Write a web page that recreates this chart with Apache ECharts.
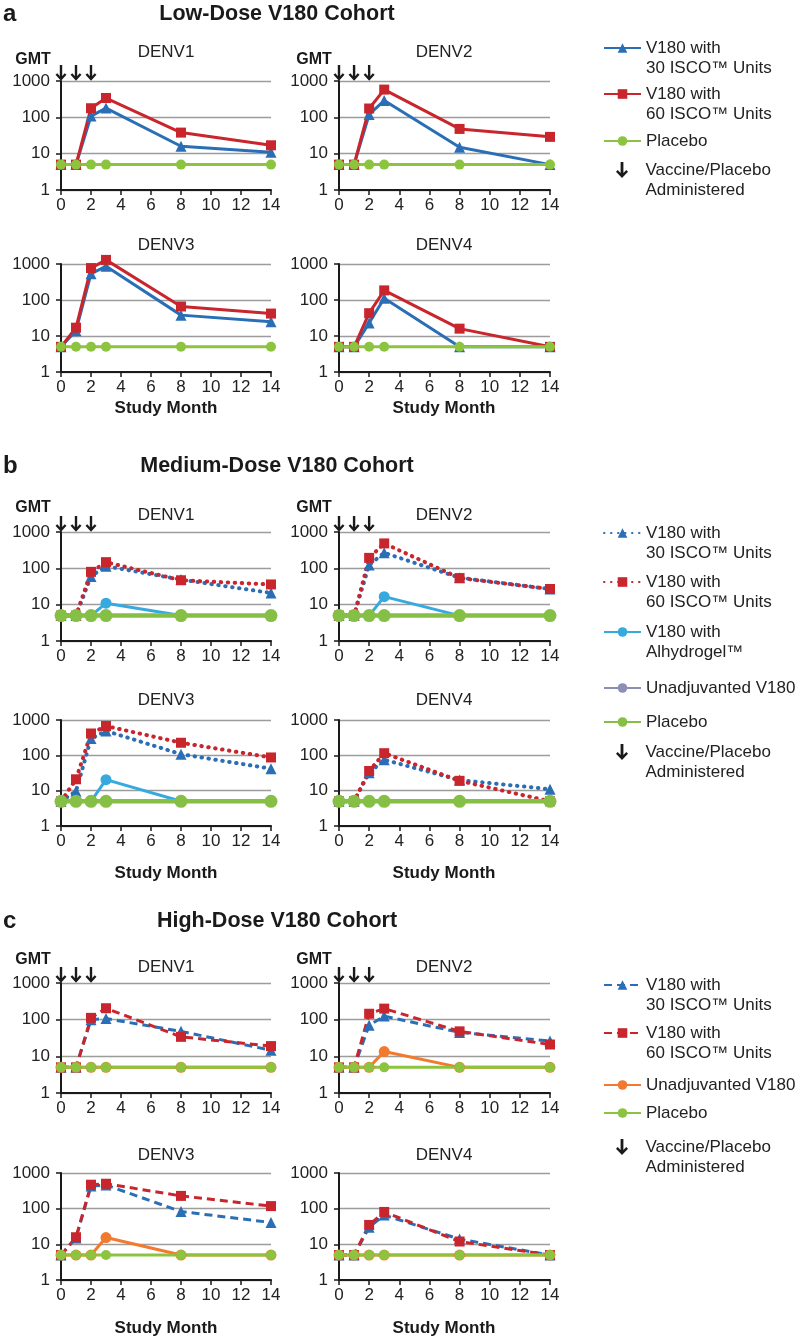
<!DOCTYPE html>
<html><head><meta charset="utf-8">
<script src="https://cdn.jsdelivr.net/npm/echarts@6/dist/echarts.min.js"></script>
<style>html,body{margin:0;padding:0;background:#fff}#c{width:800px;height:1341px}</style>
</head><body><div id="c"></div>
<script>
// ---------- DATA ----------
const months = [0, 1, 2, 3, 8, 14];
const doseMonths = [0, 1, 2];
const serotypes = ['DENV1', 'DENV2', 'DENV3', 'DENV4'];
const sectionLetters = ['a', 'b', 'c'];
const sectionTitles = ['Low-Dose V180 Cohort', 'Medium-Dose V180 Cohort', 'High-Dose V180 Cohort'];

// Low dose (per serotype DENV1..DENV4, values at months)
const low30 = [[5,5,108,180,16,11],[5,5,120,290,15,5],[5,14,540,860,38,25],[5,5,23,112,5,5]];
const low60 = [[5,5,178,340,38,17],[5,5,175,580,48,29],[5,17,770,1300,66,42],[5,5,43,185,16,5]];
const lowPlacebo = [[5,5,5,5,5,5],[5,5,5,5,5,5],[5,5,5,5,5,5],[5,5,5,5,5,5]];

// Medium dose
const med30 = [[5,5,60,115,49,21],[5,5,124,267,55,27],[5,9.6,300,490,108,42],[5,5,32,75,20,11]];
const med60 = [[5,5,80,148,47,36],[5,5,194,485,54,27],[5,21,415,675,227,87],[5,5,36,115,19,5]];
const medAlhy = [[5,5,5,11,5,5],[5,5,5,16.6,5,5],[5,5,5,20.5,5,5],[5,5,5,5,5,5]];
const medUnadj = [[5,5,5,5,5,5],[5,5,5,5,5,5],[5,5,5,5,5,5],[5,5,5,5,5,5]];
const medPlacebo = [[5,5,5,5,5,5],[5,5,5,5,5,5],[5,5,5,5,5,5],[5,5,5,5,5,5]];

// High dose
const high30 = [[5,5,100,107,48,14.6],[5,5,70,125,45,26],[5,15,430,460,83,41],[5,5,30,66,14,5]];
const high60 = [[5,5,112,205,34,19],[5,5,145,200,48,21],[5,15.8,470,500,228,118],[5,5,35,81,12,5]];
const highUnadj = [[5,5,5,5,5,5],[5,5,5,13.5,5,5],[5,5,5,15.5,5,5],[5,5,5,5,5,5]];
const highPlacebo = [[5,5,5,5,5,5],[5,5,5,5,5,5],[5,5,5,5,5,5],[5,5,5,5,5,5]];

const label30 = ['V180 with', '30 ISCO\u2122 Units'];
const label60 = ['V180 with', '60 ISCO\u2122 Units'];
const labelAlhy = ['V180 with', 'Alhydrogel\u2122'];
const labelUnadj = ['Unadjuvanted V180'];
const labelPlacebo = ['Placebo'];
const labelDose = ['Vaccine/Placebo', 'Administered'];

// ---------- STYLE / LAYOUT ----------
const FONT = '"Liberation Sans", Arial, sans-serif';
const colLeft = [61, 339], colWidth = [210, 211];
const rowTop = [[81, 264], [532, 720], [983, 1173]];
const rowHeight = [[109, 108], [109, 106], [110, 107]];
const panelTitleY = [[52, 245], [515, 700], [967, 1155]];
const gmtY = [60, 508, 960];
const studyMonthY = [408, 873, 1328];
const sectionY = [14, 466, 921];
const colCenter = [166, 444];
const gmtX = [33, 314];

const lineTypes = [
  {type: 'solid', cap: 'butt'},
  {type: [0.5, 6.5], cap: 'round'},
  {type: [8, 5], cap: 'butt'}
];
const kinds = {
  i30: {color: '#2a6eb5', symbol: 'triangle', size: 11, width: 3},
  i60: {color: '#c9252d', symbol: 'rect', size: 10, width: 3},
  alhy: {color: '#36aade', symbol: 'circle', size: 11, width: 3},
  unadjB: {color: '#8b8fb6', symbol: 'circle', size: 11, width: 3},
  unadjC: {color: '#f27a2e', symbol: 'circle', size: 11, width: 3},
  placebo: {color: '#8cc43f', symbol: 'circle', size: 10, width: 3},
  placeboB: {color: '#86bf45', symbol: 'circle', size: 13, width: 4.5}
};
const isoWidth = [3, 4, 3];
const ARROW = '#1a1a1a';
const arrowPath = 'path://M4.6,0H7.4V11L10.3,8L12,9.8L6,16L0,9.8L1.7,8L4.6,11Z';

function renderArrow(params, api) {
  const pt = api.coord([api.value(0), api.value(1)]);
  const x = pt[0], y = pt[1];
  const st = {stroke: ARROW, lineWidth: 2.4, fill: null, lineJoin: 'miter'};
  return {type: 'group', children: [
    {type: 'line', shape: {x1: x, y1: y - 16, x2: x, y2: y - 2}, style: st},
    {type: 'polyline', shape: {points: [[x - 4.6, y - 7], [x, y - 2], [x + 4.6, y - 7]]}, style: st}
  ]};
}

const sections = [
  {key: 'a', series: [
    {name: 'a30', kind: 'i30', iso: true, data: low30, label: label30},
    {name: 'a60', kind: 'i60', iso: true, data: low60, label: label60},
    {name: 'aPla', kind: 'placebo', data: lowPlacebo, label: labelPlacebo}],
   legendY: [48, 94, 141, 170]},
  {key: 'b', series: [
    {name: 'b30', kind: 'i30', iso: true, data: med30, label: label30},
    {name: 'b60', kind: 'i60', iso: true, data: med60, label: label60},
    {name: 'bAlhy', kind: 'alhy', data: medAlhy, label: labelAlhy},
    {name: 'bUnadj', kind: 'unadjB', data: medUnadj, label: labelUnadj},
    {name: 'bPla', kind: 'placeboB', data: medPlacebo, label: labelPlacebo}],
   legendY: [533, 582, 632, 688, 722, 752]},
  {key: 'c', series: [
    {name: 'c30', kind: 'i30', iso: true, data: high30, label: label30},
    {name: 'c60', kind: 'i60', iso: true, data: high60, label: label60},
    {name: 'cUnadj', kind: 'unadjC', data: highUnadj, label: labelUnadj},
    {name: 'cPla', kind: 'placebo', data: highPlacebo, label: labelPlacebo}],
   legendY: [985, 1033, 1085, 1113, 1147]}
];

const option = {
  animation: false,
  backgroundColor: '#ffffff',
  textStyle: {fontFamily: FONT},
  grid: [], xAxis: [], yAxis: [], series: [], legend: [], graphic: []
};

const labelMap = {};
const LH = 20;

sections.forEach((sec, si) => {
  option.graphic.push({type: 'text', x: 3, y: sectionY[si], style: {text: sectionLetters[si], font: 'bold 24px ' + FONT, fill: '#1a1a1a', align: 'left', verticalAlign: 'middle'}});
  option.graphic.push({type: 'text', x: 277, y: sectionY[si], style: {text: sectionTitles[si], font: 'bold 21.5px ' + FONT, fill: '#1a1a1a', align: 'center', verticalAlign: 'middle'}});
  for (let p = 0; p < 4; p++) {
    const gi = si * 4 + p, col = p % 2, row = Math.floor(p / 2);
    option.grid.push({left: colLeft[col], top: rowTop[si][row], width: colWidth[col], height: rowHeight[si][row], containLabel: false});
    option.xAxis.push({
      gridIndex: gi, type: 'value', min: 0, max: 14, interval: 2,
      axisLine: {show: true, lineStyle: {color: '#1a1a1a', width: 2}},
      axisTick: {show: true, length: 5, lineStyle: {color: '#1a1a1a', width: 1.5}},
      axisLabel: {fontSize: 17, color: '#222', margin: 7, fontFamily: FONT},
      splitLine: {show: false}
    });
    option.yAxis.push({
      gridIndex: gi, type: 'log', logBase: 10, min: 1, max: 1000,
      axisLine: {show: true, lineStyle: {color: '#1a1a1a', width: 2}},
      axisTick: {show: true, length: 5, lineStyle: {color: '#1a1a1a', width: 1.5}},
      axisLabel: {fontSize: 17, color: '#222', margin: 11, fontFamily: FONT, formatter: v => String(Math.round(v))},
      splitLine: {show: true, lineStyle: {color: '#9c9c9c', width: 1.3}},
      minorTick: {show: false}
    });
    sec.series.forEach(s => {
      const k = kinds[s.kind];
      const lt = s.iso ? lineTypes[si] : lineTypes[0];
      const w = s.iso ? isoWidth[si] : k.width;
      option.series.push({
        name: s.name, type: 'line', xAxisIndex: gi, yAxisIndex: gi,
        data: months.map((m, i) => [m, s.data[p][i]]),
        symbol: k.symbol, symbolSize: k.size, showSymbol: true,
        itemStyle: {color: k.color},
        lineStyle: {color: k.color, width: w, type: lt.type, cap: lt.cap},
        emphasis: {disabled: true}, silent: true, clip: false
      });
    });
    option.graphic.push({type: 'text', x: colCenter[col], y: panelTitleY[si][row], style: {text: serotypes[p], font: '17px ' + FONT, fill: '#222', align: 'center', verticalAlign: 'middle'}});
    if (row === 0) {
      option.graphic.push({type: 'text', x: gmtX[col], y: gmtY[si], style: {text: 'GMT', font: 'bold 16px ' + FONT, fill: '#1a1a1a', align: 'center', verticalAlign: 'middle'}});
      option.series.push({
        name: sec.key + 'Dose', type: 'custom', xAxisIndex: gi, yAxisIndex: gi,
        data: doseMonths.map(m => [m, 1000]),
        renderItem: renderArrow,
        itemStyle: {color: ARROW}, clip: false, z: 5, silent: true
      });
    } else {
      option.graphic.push({type: 'text', x: colCenter[col], y: studyMonthY[si], style: {text: 'Study Month', font: 'bold 17px ' + FONT, fill: '#1a1a1a', align: 'center', verticalAlign: 'middle'}});
    }
  }
  // legends: one component per entry; a leading blank line centres the first text line on the icon
  const entries = sec.series.map(s => ({name: s.name, label: s.label})).concat([{name: sec.key + 'Dose', label: labelDose, dose: true}]);
  entries.forEach((e, ei) => {
    const n = e.label.length;
    const pad = [];
    for (let i = 1; i < n; i++) pad.push('\u00a0');
    labelMap[e.name] = pad.concat(e.label).join('\n');
    const total = 2 * n - 1;
    const item = {name: e.name};
    if (e.dose) item.icon = arrowPath;
    option.legend.push({
      left: e.dose ? 616 : 603, top: sec.legendY[ei] - total * LH / 2, orient: 'vertical', padding: 0,
      itemWidth: 37, itemHeight: e.dose ? 16 : 12, selectedMode: false,
      symbolKeepAspect: true,
      data: [item],
      formatter: nm => labelMap[nm],
      textStyle: {fontSize: 17, lineHeight: LH, color: '#222', fontFamily: FONT}
    });
  });
});

const chart = echarts.init(document.getElementById('c'), null, {renderer: 'canvas'});
chart.setOption(option);
</script>
</body></html>
